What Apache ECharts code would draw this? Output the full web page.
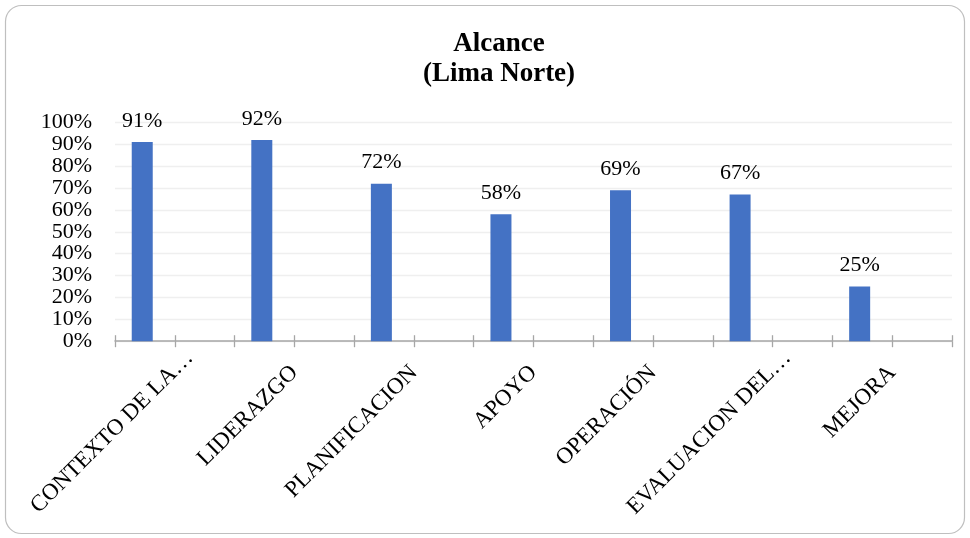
<!DOCTYPE html>
<html>
<head>
<meta charset="utf-8">
<script src="https://cdn.jsdelivr.net/npm/echarts@6/dist/echarts.min.js"></script>
<style>
  html, body { margin: 0; padding: 0; background: #ffffff; }
  #chart { width: 970px; height: 538px; }
</style>
</head>
<body>
<div id="chart"></div>
<script>
// Categorías (rótulos tal como se muestran en el eje)
const categorias = ['CONTEXTO DE LA…', 'LIDERAZGO', 'PLANIFICACION', 'APOYO', 'OPERACIÓN', 'EVALUACION DEL…', 'MEJORA'];
// Alcance por capítulo, en porcentaje
const alcance = [91, 92, 72, 58, 69, 67, 25];
// Serie vacía que reserva el segundo hueco de cada categoría
const reserva = [null, null, null, null, null, null, null];
// Eje vertical
const yMin = 0, yMax = 100, yPaso = 10;

const serif = '"Liberation Serif", "Times New Roman", serif';
const chart = echarts.init(document.getElementById('chart'), null, { renderer: 'canvas' });

// Los rótulos recortados con "…" se desplazan un poco a lo largo de la diagonal
const datosEje = categorias.map(c => c.endsWith('…')
  ? { value: c, textStyle: { padding: [0, -21, 0, 0] } }
  : c);

// Eje de marcas (bordes y mitades de cada categoría)
const ejeMarcas = (inside) => ({
  type: 'value', position: 'bottom', offset: 0,
  min: 0, max: categorias.length * 2, interval: 1,
  axisLine: { show: false },
  axisTick: { show: true, inside: inside, length: 6, lineStyle: { color: '#a6a6a6', width: 1.3 } },
  axisLabel: { show: false },
  splitLine: { show: false }
});

chart.setOption({
  backgroundColor: '#ffffff',
  animation: false,
  title: {
    text: 'Alcance\n(Lima Norte)',
    left: 494, top: 24, textAlign: 'center',
    textStyle: { fontFamily: serif, fontWeight: 'bold', fontSize: 27, lineHeight: 30, color: '#000' }
  },
  graphic: [{
    type: 'rect', silent: true, z: -10,
    shape: { x: 5.5, y: 5.5, width: 959, height: 528, r: 16 },
    style: { fill: 'none', stroke: '#bfbfbf', lineWidth: 1.2 }
  }],
  grid: { left: 115, right: 18, top: 122.4, bottom: 196.8, containLabel: false },
  xAxis: [{
    type: 'category',
    data: datosEje,
    axisLine: { show: true, lineStyle: { color: '#a6a6a6', width: 1.5 } },
    axisTick: { show: false },
    axisLabel: {
      rotate: 45, margin: 28, interval: 0,
      fontFamily: serif, fontSize: 23, color: '#000'
    }
  }, ejeMarcas(true), ejeMarcas(false)],
  yAxis: {
    type: 'value', min: yMin, max: yMax, interval: yPaso,
    axisLine: { show: false },
    axisTick: { show: false },
    axisLabel: { formatter: '{value}%', margin: 23, fontFamily: serif, fontSize: 22, color: '#000' },
    splitLine: { lineStyle: { color: '#efefef', width: 1.3 } }
  },
  series: [{
    name: 'Alcance', type: 'bar', xAxisIndex: 0,
    data: alcance, barWidth: 21, barGap: '210%',
    itemStyle: { color: '#4472c4' },
    label: {
      show: true, position: 'top', distance: 10,
      formatter: '{c}%', fontFamily: serif, fontSize: 22, color: '#000'
    }
  }, {
    name: 'Reserva', type: 'bar', xAxisIndex: 0,
    data: reserva, barWidth: 21,
    itemStyle: { color: '#ed7d31' }
  }]
});
</script>
</body>
</html>
